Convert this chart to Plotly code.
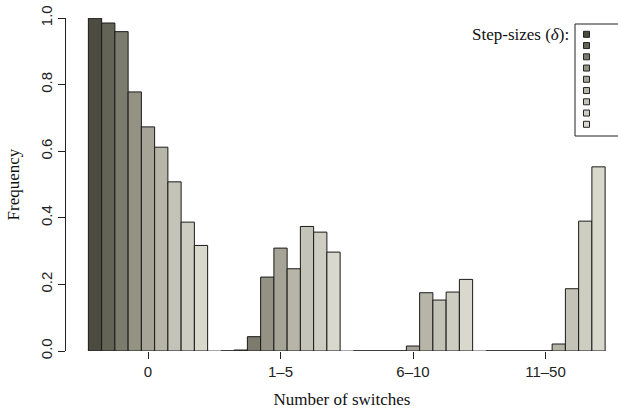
import plotly.graph_objects as go

categories = ["0", "1–5", "6–10", "11–50"]
series_values = [
    [1.000, 0.000, 0.000, 0.000],
    [0.985, 0.003, 0.000, 0.000],
    [0.959, 0.043, 0.000, 0.000],
    [0.778, 0.222, 0.000, 0.000],
    [0.673, 0.309, 0.015, 0.000],
    [0.612, 0.247, 0.175, 0.021],
    [0.508, 0.374, 0.153, 0.187],
    [0.387, 0.357, 0.177, 0.390],
    [0.317, 0.297, 0.215, 0.553],
]
colors = ["#4b4b3f", "#636356", "#7b7c6d", "#939283", "#a6a397",
          "#b6b5a7", "#c3c3b7", "#cdcdc2", "#d8d8cc"]
y_ticks = [0.0, 0.2, 0.4, 0.6, 0.8, 1.0]

W, H = 618, 414
ML, MR, MT, MB = 66, 0, 18, 63
pw, ph = W - ML - MR, H - MT - MB

xpos = list(range(len(categories)))
fig = go.Figure()
for i, (vals, c) in enumerate(zip(series_values, colors)):
    fig.add_trace(go.Bar(
        x=xpos, y=vals, marker=dict(color=c, line=dict(color="#1a1a1a", width=1)),
        showlegend=False, name=str(i + 1)))

SERIF = "Liberation Serif, Times New Roman, serif"
SANS = "Liberation Sans, Arial, Helvetica, sans-serif"

span = pw / 132.5
left = -(148 - ML) / 132.5

fig.update_layout(
    width=W, height=H,
    margin=dict(l=ML, r=MR, t=MT, b=MB, pad=0),
    paper_bgcolor="white", plot_bgcolor="white",
    barmode="group", bargap=0.1, bargroupgap=0,
    xaxis=dict(range=[left, left + span], tickmode="array", tickvals=xpos,
               ticktext=categories, showgrid=False, zeroline=False, showline=False,
               ticks="outside", ticklen=7, tickcolor="#222", tickwidth=1,
               tickfont=dict(family=SANS, size=15, color="#222"),
               title=dict(text="Number of switches", font=dict(family=SERIF, size=17, color="#111"),
                          standoff=14)),
    yaxis=dict(range=[0, 1], tickmode="array", tickvals=y_ticks,
               ticktext=[f"{v:.1f}" for v in y_ticks], tickangle=-90,
               showgrid=False, zeroline=False, showline=True, linecolor="#222", linewidth=1,
               ticks="outside", ticklen=7, tickcolor="#222", tickwidth=1,
               tickfont=dict(family=SANS, size=15, color="#222"),
               title=dict(text="Frequency", font=dict(family=SERIF, size=17, color="#111"),
                          standoff=14)),
)

# baseline under the bars
fig.add_shape(type="line", xref="x", yref="y", x0=-0.45, x1=len(categories) - 1 + 0.45,
              y0=0, y1=0, line=dict(color="#555", width=1), layer="below")

def px_x(p):
    return (p - ML) / pw

def px_y(p):
    return (H - MB - p) / ph

# legend box
fig.add_shape(type="rect", xref="paper", yref="paper", x0=px_x(575), x1=px_x(640),
              y0=px_y(136), y1=px_y(24), line=dict(color="#222", width=1),
              fillcolor="rgba(0,0,0,0)")
for i, c in enumerate(colors):
    cy = 34.3 + i * 11.25
    fig.add_shape(type="rect", xref="paper", yref="paper",
                  x0=px_x(583.5), x1=px_x(589.5), y0=px_y(cy + 3), y1=px_y(cy - 3),
                  fillcolor=c, line=dict(color="#222", width=1))

fig.add_annotation(xref="paper", yref="paper", x=px_x(571), y=px_y(35),
                   xanchor="right", yanchor="middle", showarrow=False,
                   text="Step-sizes (<i>δ</i>):",
                   font=dict(family=SERIF, size=17, color="#111"))

fig.write_html("out.html")
